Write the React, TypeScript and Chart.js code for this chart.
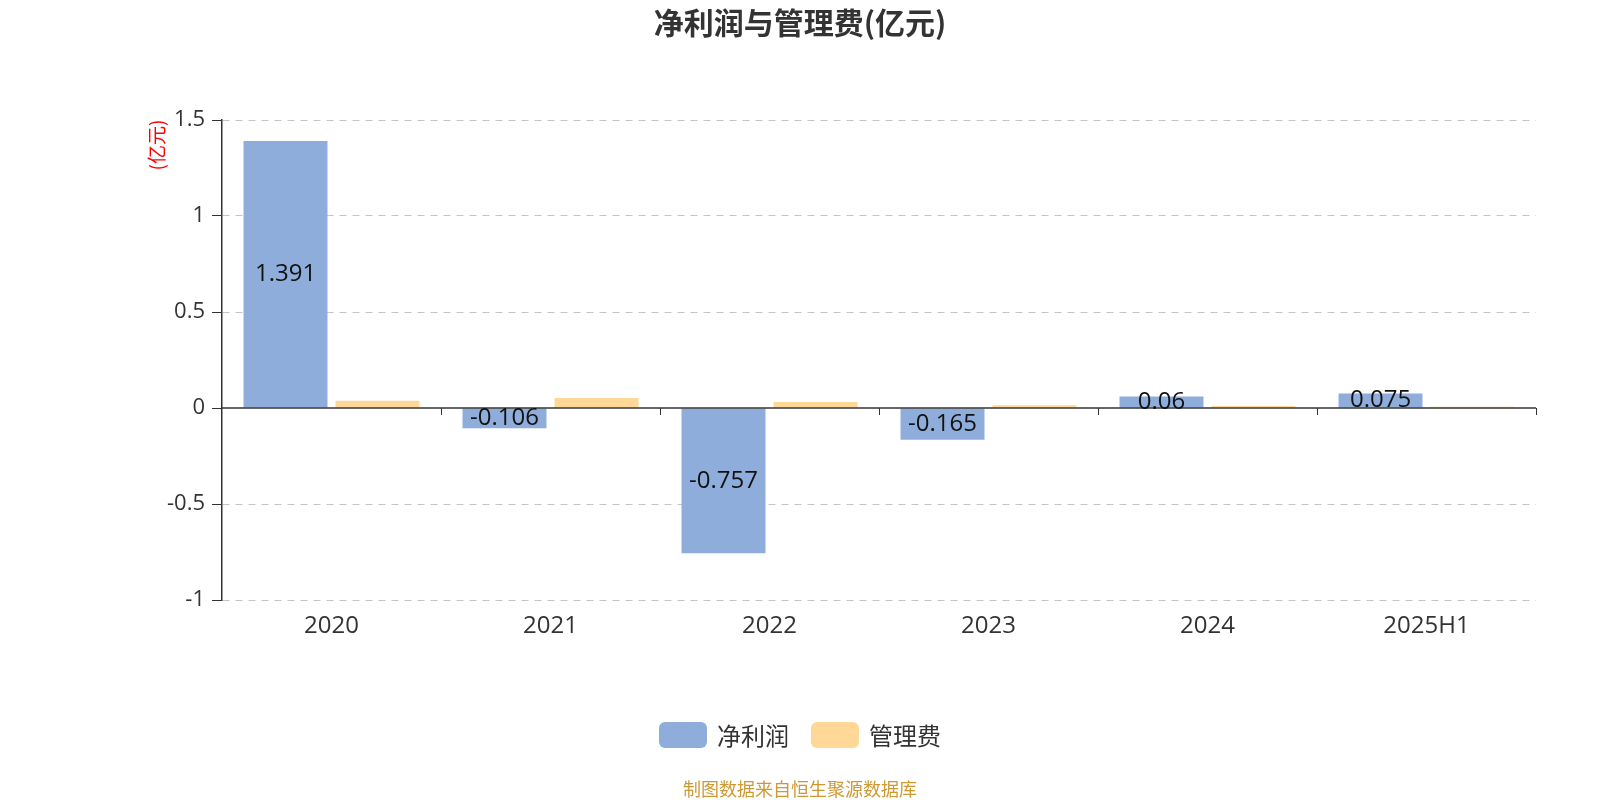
import React, { useEffect, useRef } from "react";
import { Chart, registerables } from "chart.js";

Chart.register(...registerables);

const categories = ["2020", "2021", "2022", "2023", "2024", "2025H1"];
const netProfit = [1.391, -0.106, -0.757, -0.165, 0.06, 0.075];
const mgmtFee = [0.038, 0.052, 0.031, 0.014, 0.011, 0.006];
const seriesNames = ["净利润", "管理费"];
const seriesColors = ["#8EADDB", "#FFD796"];
const yMin = -1;
const yMax = 1.5;
const yStep = 0.5;
const titleText = "净利润与管理费(亿元)";
const unitText = "(亿元)";
const sourceText = "制图数据来自恒生聚源数据库";

const FONT = '"Open Sans", "Noto Sans CJK SC", sans-serif';
const CJK = '"Noto Sans CJK SC", "Open Sans", sans-serif';

const overlayPlugin = {
  id: "overlay",
  afterDatasetsDraw(chart: any) {
    const { ctx, chartArea } = chart;
    const xs = chart.scales.x;
    const ys = chart.scales.y;
    const zeroY = ys.getPixelForValue(0);
    ctx.save();
    ctx.strokeStyle = "#333";
    ctx.lineWidth = 1.5;
    ctx.beginPath();
    ctx.moveTo(chartArea.left, zeroY);
    ctx.lineTo(chartArea.right, zeroY);
    ctx.stroke();
    ctx.lineWidth = 1;
    for (let i = 1; i <= categories.length; i++) {
      const bx = Math.round(xs.getPixelForValue(i - 0.5)) + 0.5;
      ctx.beginPath();
      ctx.moveTo(bx, zeroY);
      ctx.lineTo(bx, zeroY + 7);
      ctx.stroke();
    }
    const meta = chart.getDatasetMeta(0);
    ctx.font = `24px ${FONT}`;
    ctx.fillStyle = "#111";
    ctx.textAlign = "center";
    ctx.textBaseline = "middle";
    meta.data.forEach((el: any, i: number) => {
      const p = el.getProps(["x", "y", "base"], true);
      ctx.fillText(String(netProfit[i]), p.x, (p.y + p.base) / 2);
    });
    ctx.restore();
  },
  afterDraw(chart: any) {
    const { ctx, width } = chart;
    ctx.save();
    ctx.font = `bold 30px ${CJK}`;
    ctx.fillStyle = "#333";
    ctx.textAlign = "center";
    ctx.textBaseline = "middle";
    ctx.fillText(titleText, width / 2, 23);
    ctx.save();
    ctx.translate(157, 145);
    ctx.rotate(-Math.PI / 2);
    ctx.font = `19px ${CJK}`;
    ctx.fillStyle = "#FF0000";
    ctx.fillText(unitText, 0, 0);
    ctx.restore();
    ctx.font = `24px ${CJK}`;
    const boxW = 48, boxH = 26, gapText = 10, gapItem = 22;
    const widths = chart.data.datasets.map((d: any) => ctx.measureText(d.label).width);
    let total = 0;
    widths.forEach((w: number, i: number) => {
      total += boxW + gapText + w + (i < widths.length - 1 ? gapItem : 0);
    });
    let x = width / 2 - total / 2;
    const ly = 735;
    chart.data.datasets.forEach((d: any, i: number) => {
      ctx.fillStyle = d.backgroundColor;
      ctx.beginPath();
      (ctx as any).roundRect(x, ly - boxH / 2, boxW, boxH, 6);
      ctx.fill();
      ctx.fillStyle = "#333";
      ctx.textAlign = "left";
      ctx.fillText(d.label, x + boxW + gapText, ly + 1);
      x += boxW + gapText + widths[i] + gapItem;
    });
    ctx.font = `18px ${CJK}`;
    ctx.fillStyle = "#CC9933";
    ctx.textAlign = "center";
    ctx.fillText(sourceText, width / 2, 789);
    ctx.restore();
  },
};

export default function App() {
  const ref = useRef<HTMLCanvasElement>(null);
  useEffect(() => {
    if (!ref.current) return;
    const chart = new Chart(ref.current, {
      type: "bar",
      data: {
        labels: categories,
        datasets: [
          { label: seriesNames[0], data: netProfit, backgroundColor: seriesColors[0] },
          { label: seriesNames[1], data: mgmtFee, backgroundColor: seriesColors[1] },
        ],
      },
      options: {
        responsive: false,
        animation: false,
        devicePixelRatio: 1,
        layout: { padding: { top: 120, right: 64, bottom: 0, left: 0 } },
        datasets: { bar: { categoryPercentage: 0.84, barPercentage: 0.913 } },
        plugins: {
          legend: { display: false },
          title: { display: false },
          tooltip: { enabled: false },
        },
        scales: {
          x: {
            afterFit: (s: any) => { s.height = 200; },
            grid: { display: false, drawTicks: false },
            border: { display: false },
            ticks: { color: "#333", font: { size: 24, family: FONT }, padding: 12 },
          },
          y: {
            min: yMin,
            max: yMax,
            afterFit: (s: any) => { s.width = 222; },
            ticks: {
              stepSize: yStep,
              color: "#333",
              font: { size: 22, family: FONT },
              padding: 7,
              callback: (v: any) => String(Math.round(Number(v) * 10) / 10),
            },
            grid: {
              color: (c: any) => (c.tick && c.tick.value === 0 ? "rgba(0,0,0,0)" : "#c4c4c4"),
              tickColor: "#333",
              tickLength: 10,
              lineWidth: 1,
            },
            border: { display: true, color: "#333", width: 1.5, dash: [7, 6] },
          },
        },
      },
      plugins: [overlayPlugin],
    });
    return () => chart.destroy();
  }, []);
  return (
    <div style={{ position: "fixed", left: 0, top: 0, width: 1600, height: 800, background: "#fff" }}>
      <canvas ref={ref} width={1600} height={800} style={{ width: 1600, height: 800 }} />
    </div>
  );
}
